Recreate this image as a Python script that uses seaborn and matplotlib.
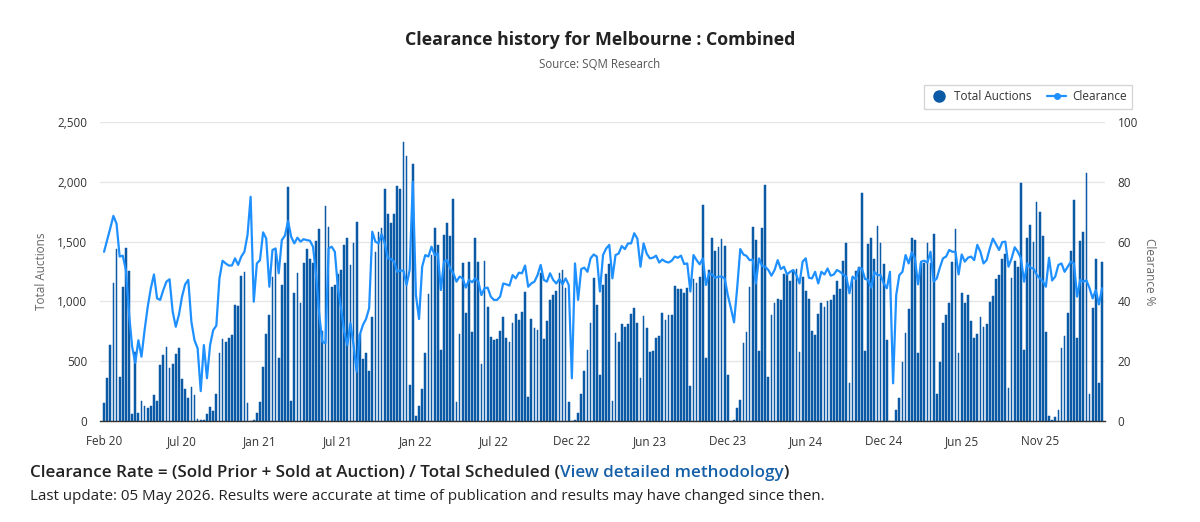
import numpy as np
import pandas as pd
import matplotlib
matplotlib.use("Agg")
import matplotlib.pyplot as plt
import seaborn as sns
from matplotlib.lines import Line2D

# ---------------- data (weekly, Feb 2020 -> May 2026) ----------------
auctions_a = [153, 357, 635, 1151, 1435, 371, 1123, 1444, 1254, 58, 574, 64, 167, 125, 106, 125, 217, 167,
              468, 552, 616, 440, 477, 557, 608, 348, 265, 195, 284, 217]
auctions_b = [17, 8, 8, 59, 117, 84, 229, 566, 683, 658, 697, 719, 970, 962, 1212, 1249, 148, 0, 6, 64, 162,
              449, 727, 886, 1201, 1435, 530, 1137, 1324, 1959, 167, 1073, 1235]
auctions_c = [984, 1318, 1435, 1355, 1318, 1508, 1605, 752, 1798, 1619, 1123, 1137, 1229, 1263, 1472, 1527,
              1304, 1491, 1667, 725, 516, 571, 418, 872, 1416, 1583, 1611, 1940, 1728, 1658, 1731, 1965]
auctions_d = [1940, 2330, 2216, 301, 2146, 42, 125, 268, 571, 1062, 1388, 1611, 1472, 594, 1555, 1658, 1547,
              1853, 162, 725, 1318, 900, 1332, 741, 1527, 1327, 477, 1341, 956, 700, 674, 683, 752]
auctions_e = [872, 691, 658, 817, 895, 845, 909, 1076, 203, 853, 780, 761, 1235, 683, 836, 1012, 1053, 1087,
              1235, 1263, 1115, 162, 0, 8, 64, 223, 418, 594, 822, 1193, 970, 385]
auctions_f = [1137, 1226, 1310, 167, 733, 663, 811, 783, 808, 895, 942, 822, 357, 878, 775, 580, 588, 697, 713,
              900, 845, 886, 886, 1129, 1101, 1101, 1067, 1109, 293, 1187, 1151, 1201, 1806]
auctions_g = [530, 1263, 1527, 1424, 1458, 1519, 1466, 385, 0, 8, 106, 176, 655, 747, 1123, 1619, 1513, 585,
              1611, 1973, 371, 886, 989, 1020, 1012, 1229, 1221, 1173, 1254, 1268, 580, 1201]
auctions_h = [1090, 1020, 752, 719, 895, 989, 956, 1006, 1012, 1053, 1173, 1104, 1338, 1491, 315, 1193, 1254,
              1285, 1909, 585, 1480, 1533, 1355, 1630, 1491, 1313, 677, 0, 0, 92, 190, 490, 739]
auctions_i = [936, 1527, 1513, 566, 1318, 1318, 1485, 1318, 1561, 226, 490, 817, 886, 989, 1327, 1605, 566,
              1067, 989, 1053, 836, 691, 725, 872, 783, 811, 998, 1048, 1187, 1221, 1355, 1394]
auctions_j = [273, 1193, 1341, 1291, 1987, 594, 1533, 1639, 1494, 1834, 1750, 1547, 747, 45, 8, 36, 89, 608,
              711, 900, 1421, 1848, 691, 1505, 1577, 2071, 223, 948, 1355, 321, 1332]

clearance_a = [56.6, 60.5, 64.5, 68.6, 66, 55, 55.3, 50.5, 36, 24.9, 19.4, 27, 21.5, 30.4, 38.2, 44.4, 49, 41,
               40.5, 43.8, 46.6, 47.4, 36.6, 31.5, 35.5, 41.6, 45.7, 47.2, 33.2, 27]
clearance_b = [24.3, 10, 25.4, 14.3, 25.4, 30.4, 31.9, 47.7, 53.6, 52.7, 52, 52, 54.4, 52.2, 55, 56.6, 62.2, 75,
               39.9, 52.7, 53.8, 63.1, 61, 44.9, 57.2, 57.7, 49.4, 60.5, 62, 66.9, 61.6, 59.4, 61.3]
clearance_c = [60, 60.8, 60.5, 60.3, 58.3, 48.8, 35.5, 26.5, 26, 57.7, 58.3, 56.6, 44.4, 37.7, 29.9, 25.4, 32.7,
               25.4, 16.5, 28.8, 32.1, 34.1, 37.7, 63.3, 60, 59.4, 62.5, 59.4, 54.4, 54.2, 53.3, 49.9]
clearance_d = [50.3, 50.3, 45.5, 50.5, 80, 42.1, 34.1, 51.6, 55.5, 55, 58.3, 55.5, 56, 43.8, 53.3, 53.8, 51,
               49.4, 46.6, 48.3, 47.7, 44.6, 47.2, 46.4, 47.7, 46.6, 42.1, 44.4, 44.6, 41.6, 40.5, 40.5, 41.6]
clearance_e = [46, 45.7, 45.3, 48.8, 47.7, 49.6, 49.4, 52, 44.9, 46, 46.6, 48.8, 52.2, 47.2, 46.6, 49.4, 47.2,
               46, 47.5, 45.7, 47.7, 45.5, 14.3, 52.7, 40.5, 50.8, 51.3, 49.9, 54.4, 55.7, 55, 43.3]
clearance_f = [55.5, 57.7, 58.9, 47.7, 55.5, 56, 58.5, 57.5, 59.4, 59.4, 62.8, 61, 51.6, 59.4, 56, 54.4, 54.6,
               55.3, 53, 54, 53.3, 53, 53.6, 55, 54.6, 55.3, 52.5, 52.7, 43.3, 55.5, 53.8, 52.4, 54.4]
clearance_g = [45.5, 49.4, 49, 47.9, 48.3, 48.3, 47.7, 42.1, 37.7, 33, 44.4, 57.5, 55.7, 55.2, 53.8, 54, 46,
               54.4, 51.8, 51.6, 50.5, 48.6, 50.5, 53.8, 50.8, 51.6, 49, 49.9, 50.5, 48.8, 46, 53.3]
clearance_h = [54.4, 47.9, 47.7, 49.9, 46, 49.9, 49, 51, 48.6, 49, 50.5, 49.9, 49, 48.3, 42.7, 48.3, 47.4, 51,
               51, 47.5, 47.2, 44.6, 49.9, 48.8, 48.8, 46, 44.4, 49.9, 12.6, 42.1, 48.8, 49.9, 55.5]
clearance_i = [52.7, 56.4, 54.4, 45.7, 53.3, 53.6, 53, 56.6, 46.6, 47.7, 51.3, 54.4, 55, 57.2, 56.6, 56.6, 49,
               55.7, 53.3, 54.6, 55, 53.8, 58.9, 56.6, 52.7, 53.8, 57.7, 61, 59.1, 57.2, 59.8, 60]
clearance_j = [51.6, 54.4, 58.1, 56.6, 54.4, 46.6, 52.7, 51.3, 51, 49, 47.7, 46.8, 44.9, 54.6, 47, 48.3, 52.2,
               52.7, 49.9, 51.6, 53.3, 52.7, 41.6, 47.2, 46.6, 47, 44.4, 41, 43.8, 39, 44.4]

tick_labels = ["Feb 20", "Jul 20", "Jan 21", "Jul 21", "Jan 22", "Jul 22", "Dec 22",
               "Jun 23", "Dec 23", "Jun 24", "Dec 24", "Jun 25", "Nov 25"]
left_ticks = [0, 500, 1000, 1500, 2000, 2500]
right_ticks = [0, 20, 40, 60, 80, 100]

auctions = (auctions_a + auctions_b + auctions_c + auctions_d + auctions_e + auctions_f + auctions_g
            + auctions_h + auctions_i + auctions_j)
clearance = (clearance_a + clearance_b + clearance_c + clearance_d + clearance_e + clearance_f + clearance_g
             + clearance_h + clearance_i + clearance_j)
n = len(auctions)
df = pd.DataFrame({"week": np.arange(n), "auctions": auctions, "clearance": clearance})

BAR = "#0a5aa6"
LINE = "#1e90ff"
TXT = "#666666"

sns.set_style("white")
plt.rcParams["font.family"] = ["Open Sans", "DejaVu Sans"]

fig = plt.figure(figsize=(12, 5.22), dpi=100)
ax = fig.add_axes([100 / 1200, 1 - 421 / 522, 1005 / 1200, 299 / 522])

sns.barplot(data=df, x="week", y="auctions", color=BAR, saturation=1, width=0.56, ax=ax, zorder=2,
            edgecolor=BAR, linewidth=0.35)
ax2 = ax.twinx()
sns.lineplot(data=df, x="week", y="clearance", color=LINE, lw=1.6, ax=ax2)

ax.set_xlim(-1.3, n - 0.05)
ax2.set_xlim(-1.3, n - 0.05)
ax.set_ylim(0, 2500)
ax2.set_ylim(0, 100)

ax.set_axisbelow(True)
ax.yaxis.grid(True, color="#e6e6e6", lw=1)
for s in ["left", "right", "top"]:
    ax.spines[s].set_visible(False)
    ax2.spines[s].set_visible(False)
ax.spines["bottom"].set_color("#333333")
ax.spines["bottom"].set_linewidth(1)
ax2.spines["bottom"].set_visible(False)

ax.set_xticks(np.arange(0, n, 25)[:len(tick_labels)])
ax.set_xticklabels(tick_labels)
ax.set_yticks(left_ticks)
ax.set_yticklabels([f"{v:,}" for v in left_ticks])
ax2.set_yticks(right_ticks)
ax2.set_yticklabels([str(v) for v in right_ticks])
ax.tick_params(axis="x", length=0, pad=10, labelsize=8.5, labelcolor="#333333")
ax.tick_params(axis="y", length=0, pad=9, labelsize=8.5, labelcolor="#333333")
ax2.tick_params(axis="y", length=0, pad=9, labelsize=8.5, labelcolor="#333333")
ax.set_xlabel("")
ax.set_ylabel("Total Auctions", fontsize=8.5, color=TXT, labelpad=7)
ax2.set_ylabel("Clearance %", fontsize=8.5, color=TXT, rotation=270, labelpad=13)

handles = [Line2D([], [], marker="o", linestyle="None", markerfacecolor=BAR, markeredgecolor=BAR, markersize=8),
           Line2D([], [], marker="o", color=LINE, markersize=4, lw=1.6)]
leg = fig.legend(handles, ["Total Auctions", "Clearance"], ncol=2, loc="upper right",
                 bbox_to_anchor=(1132 / 1200, 1 - 85 / 522), borderaxespad=0, frameon=True, fancybox=False,
                 edgecolor="#cccccc", fontsize=8.5, handlelength=1.6, columnspacing=1.3,
                 borderpad=0.45, handletextpad=0.5)
leg.get_frame().set_linewidth(1)
for t in leg.get_texts():
    t.set_color("#333333")

fig.text(0.5, 1 - 40 / 522, "Clearance history for Melbourne : Combined", ha="center", va="center",
         fontsize=12.8, fontweight="bold", color="#222222")
fig.text(0.5, 1 - 65 / 522, "Source: SQM Research", ha="center", va="center", fontsize=8.3, color="#555555")

# footer with coloured link part
renderer = fig.canvas.get_renderer()
x0 = 30 / 1200
y1 = 1 - 473 / 522
parts = [("Clearance Rate = (Sold Prior + Sold at Auction) / Total Scheduled (", "#222222"),
         ("View detailed methodology", "#1560a8"),
         (")", "#222222")]
x = x0
for txt, col in parts:
    t = fig.text(x, y1, txt, ha="left", va="center", fontsize=12.25, fontweight="semibold", color=col)
    bb = t.get_window_extent(renderer=renderer)
    x += bb.width / fig.bbox.width
fig.text(x0, 1 - 497 / 522,
         "Last update: 05 May 2026. Results were accurate at time of publication and results may have changed since then.",
         ha="left", va="center", fontsize=10.9, color="#222222")

fig.savefig("out.png", dpi=100, facecolor="white")
